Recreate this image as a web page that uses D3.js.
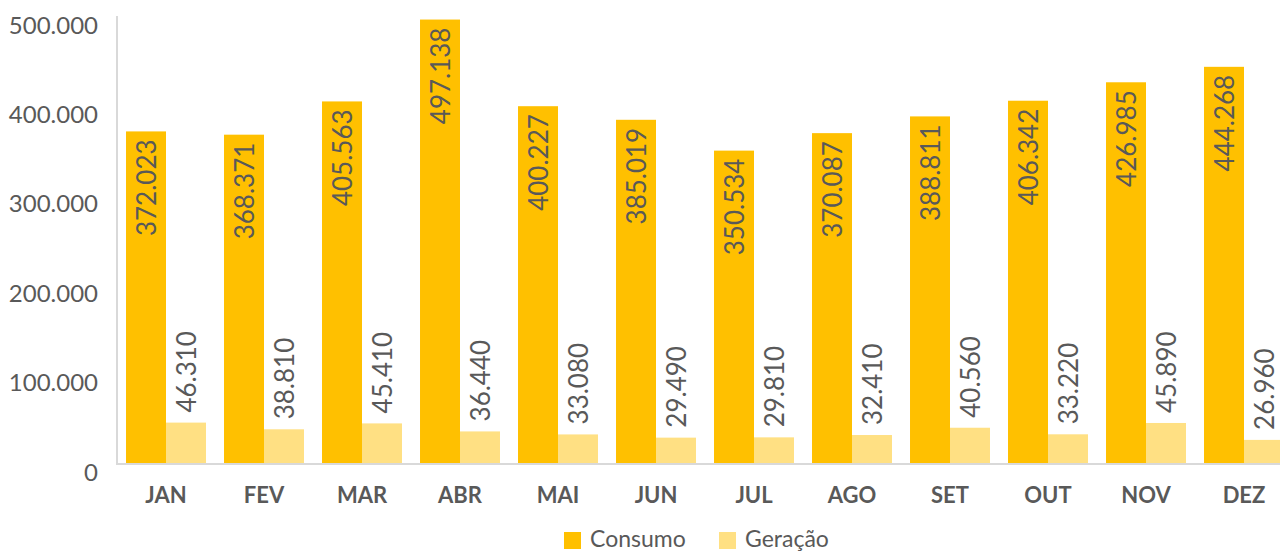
<!DOCTYPE html>
<html>
<head>
<meta charset="utf-8">
<script src="https://cdn.jsdelivr.net/npm/d3@7"></script>
<style>
body { margin: 0; background: #fff; }
text { font-family: Lato, "Open Sans", sans-serif; fill: #595959; }
</style>
</head>
<body>
<div id="chart"></div>
<script>
var months = ['JAN', 'FEV', 'MAR', 'ABR', 'MAI', 'JUN', 'JUL', 'AGO', 'SET', 'OUT', 'NOV', 'DEZ'];
var consumo = [372023, 368371, 405563, 497138, 400227, 385019, 350534, 370087, 388811, 406342, 426985, 444268];
var geracao = [46310, 38810, 45410, 36440, 33080, 29490, 29810, 32410, 40560, 33220, 45890, 26960];
var yTicks = [0, 100000, 200000, 300000, 400000, 500000];
var seriesNames = ['Consumo', 'Geração'];
var colors = ['#FFC000', '#FFE083'];

var width = 1280, height = 551;
var fmt = function(v) { return d3.format(',')(v).replace(/,/g, '.'); };

var svg = d3.select('#chart').append('svg').attr('width', width).attr('height', height);

var x = d3.scaleBand().domain(months).range([117, 1293]).paddingInner(0.184).paddingOuter(0.092);
var xSub = d3.scaleBand().domain([0, 1]).range([0, x.bandwidth()]);
var y = d3.scaleLinear().domain([0, 500000]).range([464, 17]);

// y tick labels
svg.append('g').selectAll('text').data(yTicks).enter().append('text')
	.attr('x', 98)
	.attr('y', function(d) { return y(d) + 7; })
	.attr('text-anchor', 'end')
	.attr('dominant-baseline', 'central')
	.style('font-size', '24px')
	.text(function(d) { return d === 0 ? '0' : fmt(d); });

var data = [consumo, geracao];
var groups = svg.append('g');

data.forEach(function(values, s) {
	groups.selectAll('rect.s' + s).data(values).enter().append('rect')
		.attr('class', 's' + s)
		.attr('x', function(d, i) { return x(months[i]) + xSub(s); })
		.attr('width', xSub.bandwidth())
		.attr('y', function(d) { return y(d); })
		.attr('height', function(d) { return y(0) - y(d); })
		.attr('fill', colors[s]);
});

// axis lines
svg.append('line').attr('x1', 117).attr('x2', 117).attr('y1', 16).attr('y2', y(0))
	.attr('stroke', '#D9D9D9').attr('stroke-width', 2);
svg.append('line').attr('x1', 116).attr('x2', 1280).attr('y1', y(0)).attr('y2', y(0))
	.attr('stroke', '#D9D9D9').attr('stroke-width', 2);

// data labels
svg.append('g').selectAll('text').data(consumo).enter().append('text')
	.attr('transform', function(d, i) {
		var cx = x(months[i]) + xSub(0) + xSub.bandwidth() / 2;
		return 'translate(' + cx + ',' + (y(d) + 8) + ') rotate(-90)';
	})
	.attr('text-anchor', 'end')
	.attr('dominant-baseline', 'central')
	.style('font-size', '26px')
	.text(function(d) { return fmt(d); });

svg.append('g').selectAll('text').data(geracao).enter().append('text')
	.attr('transform', function(d, i) {
		var cx = x(months[i]) + xSub(1) + xSub.bandwidth() / 2;
		return 'translate(' + cx + ',' + (y(d) - 10) + ') rotate(-90)';
	})
	.attr('text-anchor', 'start')
	.attr('dominant-baseline', 'central')
	.style('font-size', '26px')
	.text(function(d) { return fmt(d); });

// category labels
svg.append('g').selectAll('text').data(months).enter().append('text')
	.attr('x', function(d) { return x(d) + x.bandwidth() / 2; })
	.attr('y', 494)
	.attr('text-anchor', 'middle')
	.attr('dominant-baseline', 'central')
	.style('font-size', '22px')
	.style('font-weight', 'bold')
	.text(function(d) { return d; });

// legend
var legendX = [564, 719];
var legend = svg.append('g');
seriesNames.forEach(function(name, s) {
	legend.append('rect').attr('x', legendX[s]).attr('y', 532).attr('width', 17).attr('height', 17).attr('fill', colors[s]);
	legend.append('text').attr('x', legendX[s] + 26).attr('y', 538)
		.attr('dominant-baseline', 'central')
		.style('font-size', '23px')
		.text(name);
});
</script>
</body>
</html>
